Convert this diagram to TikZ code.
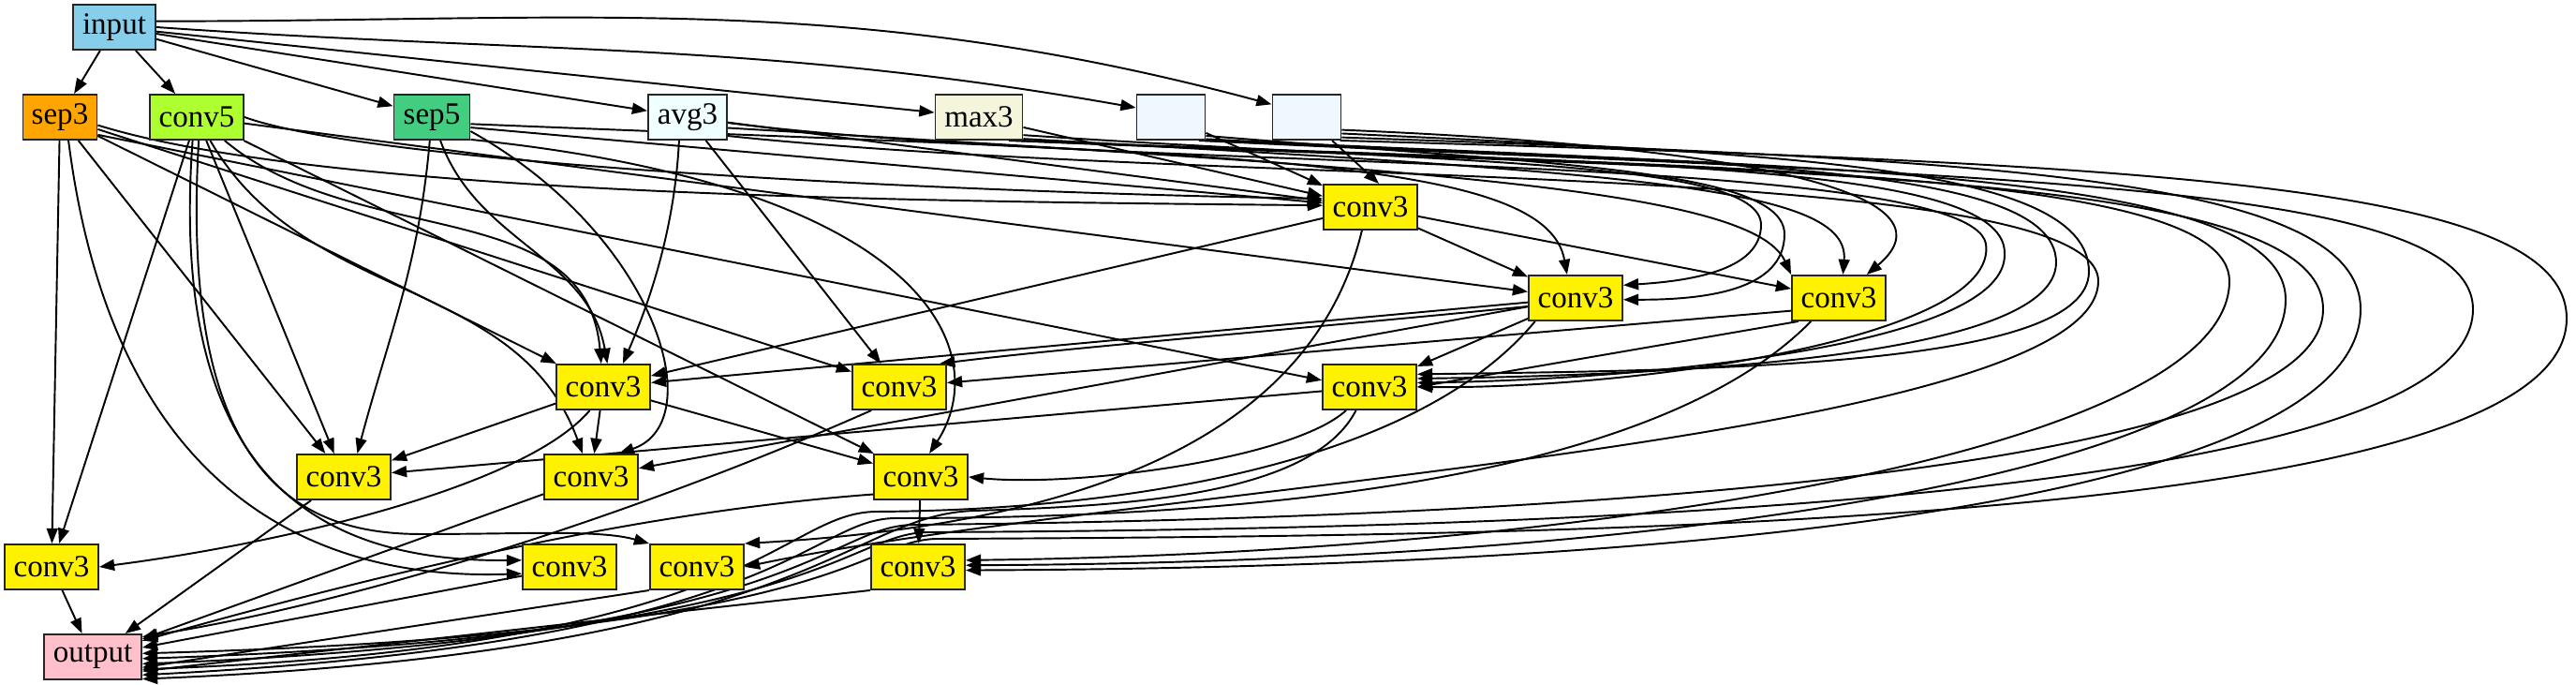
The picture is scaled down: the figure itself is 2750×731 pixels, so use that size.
\documentclass[tikz,border=0pt]{standalone}
\usepackage{fontspec}
\newfontfamily\opfont{Liberation Serif}
\usetikzlibrary{arrows.meta,backgrounds}

\definecolor{inputblue}{HTML}{87CEEB}
\definecolor{septhree}{HTML}{FFA500}
\definecolor{convfive}{HTML}{ADFF2F}
\definecolor{sepfive}{HTML}{43CD80}
\definecolor{avgthree}{HTML}{F0FFFF}
\definecolor{maxthree}{HTML}{F5F5DC}
\definecolor{blankop}{HTML}{F0F8FF}
\definecolor{outpink}{HTML}{FFC0CB}

\begin{document}
\begin{tikzpicture}[x=0.1mm, y=0.1mm,
    op/.style={draw=black!85, line width=0.55pt, minimum height=4.8mm, inner sep=0pt, font=\opfont\fontsize{9.4}{10}\selectfont},
    cv/.style={op, fill=yellow, minimum width=10mm},
    link/.style={-{Triangle[length=4.6pt,width=3.4pt]}, line width=0.55pt}]
    \useasboundingbox (0,0) rectangle (2750,-731);

    % Nodes: input and the first ops
    \node[op, fill=inputblue, minimum width=8.8mm] (input) at (122,-29) {input};
    \node[op, fill=septhree, minimum width=7.9mm] (sep3) at (64,-125) {sep3};
    \node[op, fill=convfive, minimum width=10mm] (conv5) at (210,-125) {conv5};
    \node[op, fill=sepfive, minimum width=8.1mm] (sep5) at (461,-125) {sep5};
    \node[op, fill=avgthree, minimum width=8.4mm] (avg3) at (734,-125) {avg3};
    \node[op, fill=maxthree, minimum width=9.3mm] (max3) at (1045,-125) {max3};
    \node[op, fill=blankop, minimum width=7.3mm] (blank1) at (1250,-125) {};
    \node[op, fill=blankop, minimum width=7.3mm] (blank2) at (1395,-125) {};

    % Nodes: conv3 blocks
    \node[cv] (A) at (1463,-221) {conv3};
    \node[cv] (B) at (1682,-318) {conv3};
    \node[cv] (C) at (1963,-318) {conv3};
    \node[cv] (D) at (644,-413) {conv3};
    \node[cv] (J) at (960,-413) {conv3};
    \node[cv] (M) at (1462,-413) {conv3};
    \node[cv] (E) at (367,-509) {conv3};
    \node[cv] (F) at (631,-509) {conv3};
    \node[cv] (K) at (983,-509) {conv3};
    \node[cv] (G) at (55,-605) {conv3};
    \node[cv] (H) at (608,-605) {conv3};
    \node[cv] (I) at (744,-605) {conv3};
    \node[cv] (L) at (980,-605) {conv3};
    \node[op, fill=outpink, minimum width=10.4mm] (output) at (99,-701) {output};

    \begin{pgfonlayer}{background}
    % Edges from input
    \draw[link] (input) -- (sep3);
    \draw[link] (input) -- (conv5);
    \draw[link] (input) -- (sep5);
    \draw[link] (input) -- (avg3);
    \draw[link] (input) -- (max3);
    \draw[link] (input.0) to[out=-4,in=170] (blank1.165);
    \draw[link] (input.8) to[out=0,in=165] (blank2.160);

    % Edges from sep3
    \draw[link] (sep3) -- (G);
    \draw[link] (sep3.-70) .. controls (120,-520) and (330,-620) .. (H.188);
    \draw[link] (sep3) -- (E);
    \draw[link] (sep3) -- (D);
    \draw[link] (sep3) -- (J);
    \draw[link] (sep3.-25) -- (M.172);
    \draw[link] (sep3.-12) .. controls (350,-210) and (1000,-215) .. (A.178);

    % Edges from conv5
    \draw[link] (conv5) -- (G);
    \draw[link] (conv5) -- (E);
    \draw[link] (conv5.-100) .. controls (180,-500) and (330,-600) .. (H.172);
    \draw[link] (conv5.-85) .. controls (190,-520) and (330,-570) .. (450,-570)
        .. controls (560,-570) and (640,-565) .. (I.north west);
    \draw[link] (conv5) to[out=-40,in=95] (D.95);
    \draw[link] (conv5.-60) to[out=-60,in=110] (F.110);
    \draw[link] (conv5) -- (K);
    \draw[link] (conv5.east) .. controls (400,-175) and (1000,-205) .. (A.170);
    \draw[link] (conv5) -- (B);

    % Edges from sep5
    \draw[link] (sep5) to[out=-95,in=75] (E.60);
    \draw[link] (sep5.-70) to[out=-70,in=100] (D.80);
    \draw[link] (sep5.-20) .. controls (700,-250) and (760,-450) .. (F.40);
    \draw[link] (sep5.-30) .. controls (1000,-200) and (1060,-380) .. (K.70);
    \draw[link] (sep5.-15) -- (A);
    \draw[link] (sep5.-10) .. controls (1300,-165) and (1650,-165) .. (B.110);

    % Edges from avg3
    \draw[link] (avg3.-110) .. controls (720,-250) and (690,-330) .. (D.50);
    \draw[link] (avg3) -- (J);
    \draw[link] (avg3) -- (A);
    \draw[link] (avg3.-15) .. controls (1500,-180) and (1870,-200) .. (C.north west);
    \draw[link] (avg3.-8) .. controls (1200,-185) and (2100,-160) .. (2120,-260)
        .. controls (2135,-360) and (1750,-415) .. (M.0);
    \draw[link] (avg3.-25) .. controls (1300,-200) and (2240,-170) .. (2240,-300)
        .. controls (2240,-470) and (1200,-520) .. (I.east);

    % Edges from max3
    \draw[link] (max3) -- (A);
    \draw[link] (max3.-22) .. controls (1550,-175) and (1880,-170) .. (1880,-240)
        .. controls (1880,-290) and (1800,-300) .. (B.15);
    \draw[link] (max3.-26) .. controls (1750,-185) and (1975,-200) .. (C.80);
    \draw[link] (max3.-30) .. controls (1700,-175) and (2140,-170) .. (2140,-270)
        .. controls (2145,-370) and (1750,-405) .. (M.5);
    \draw[link] (max3.-34) .. controls (1800,-180) and (2380,-175) .. (2380,-300)
        .. controls (2380,-480) and (1700,-590) .. (L.8);
    \draw[link] (max3.-38) .. controls (1900,-185) and (2480,-180) .. (2480,-330)
        .. controls (2480,-520) and (1500,-555) .. (975,-560)
        .. controls (880,-562) and (860,-680) .. (output.-8);

    % Edges from the two blank ops
    \draw[link] (blank1) -- (A);
    \draw[link] (blank1.-28) .. controls (1650,-175) and (1905,-180) .. (1905,-250)
        .. controls (1905,-310) and (1820,-320) .. (B.-2);
    \draw[link] (blank1.-32) .. controls (1800,-175) and (2195,-170) .. (2195,-280)
        .. controls (2195,-380) and (1800,-400) .. (M.10);
    \draw[link] (blank1.-36) .. controls (1950,-180) and (2440,-180) .. (2440,-320)
        .. controls (2440,-500) and (1800,-600) .. (L.2);
    \draw[link] (blank1.-40) .. controls (2100,-190) and (2640,-190) .. (2640,-330)
        .. controls (2640,-540) and (1600,-565) .. (990,-568)
        .. controls (900,-570) and (880,-678) .. (output.-2);
    \draw[link] (blank2) -- (A.70);
    \draw[link] (blank2.-20) .. controls (1950,-160) and (2080,-220) .. (C.40);
    \draw[link] (blank2.-25) .. controls (1900,-165) and (2230,-175) .. (2230,-290)
        .. controls (2230,-390) and (1850,-395) .. (M.15);
    \draw[link] (blank2.-30) .. controls (2100,-170) and (2520,-185) .. (2520,-330)
        .. controls (2520,-520) and (1900,-605) .. (L.-4);
    \draw[link] (blank2.-35) .. controls (2300,-175) and (2740,-195) .. (2740,-340)
        .. controls (2740,-560) and (1700,-572) .. (1000,-575)
        .. controls (915,-577) and (905,-676) .. (output.4);

    % Edges between conv3 blocks
    \draw[link] (A) -- (B);
    \draw[link] (A) -- (C);
    \draw[link] (A) -- (D);
    \draw[link] (A.-110) .. controls (1400,-470) and (1150,-560) .. (I.north east);
    \draw[link] (B) -- (D);
    \draw[link] (B.-170) .. controls (1400,-350) and (1150,-370) .. (J.30);
    \draw[link] (B) -- (M);
    \draw[link] (B) -- (F);
    \draw[link] (B.-150) .. controls (1500,-510) and (1150,-545) .. (935,-546)
        .. controls (830,-548) and (810,-690) .. (output.-14);
    \draw[link] (C.-140) .. controls (1750,-530) and (1250,-553) .. (955,-553)
        .. controls (860,-555) and (840,-685) .. (output.-20);
    \draw[link] (C.-165) -- (J.5);
    \draw[link] (C.-150) -- (M.east);
    \draw[link] (D) -- (E);
    \draw[link] (D) -- (F);
    \draw[link] (D.-120) .. controls (560,-520) and (300,-580) .. (G.east);
    \draw[link] (D) -- (K);
    \draw[link] (J.-140) .. controls (700,-540) and (400,-640) .. (output.22);
    \draw[link] (M) -- (E);
    \draw[link] (M.-135) .. controls (1380,-490) and (1150,-520) .. (K.east);
    \draw[link] (M.-120) .. controls (1400,-530) and (1200,-540) .. (1040,-545)
        .. controls (900,-550) and (870,-695) .. (output.-24);
    \draw[link] (K) -- (L);
    \draw[link] (K.-160) .. controls (700,-545) and (450,-600) .. (output.18);

    % Edges into output
    \draw[link] (E) -- (output);
    \draw[link] (F) -- (output);
    \draw[link] (G) -- (output);
    \draw[link] (H) -- (output);
    \draw[link] (I.south west) -- (output.-12);
    \draw[link] (L.south west) -- (output.-16);
    \end{pgfonlayer}
\end{tikzpicture}
\end{document}
